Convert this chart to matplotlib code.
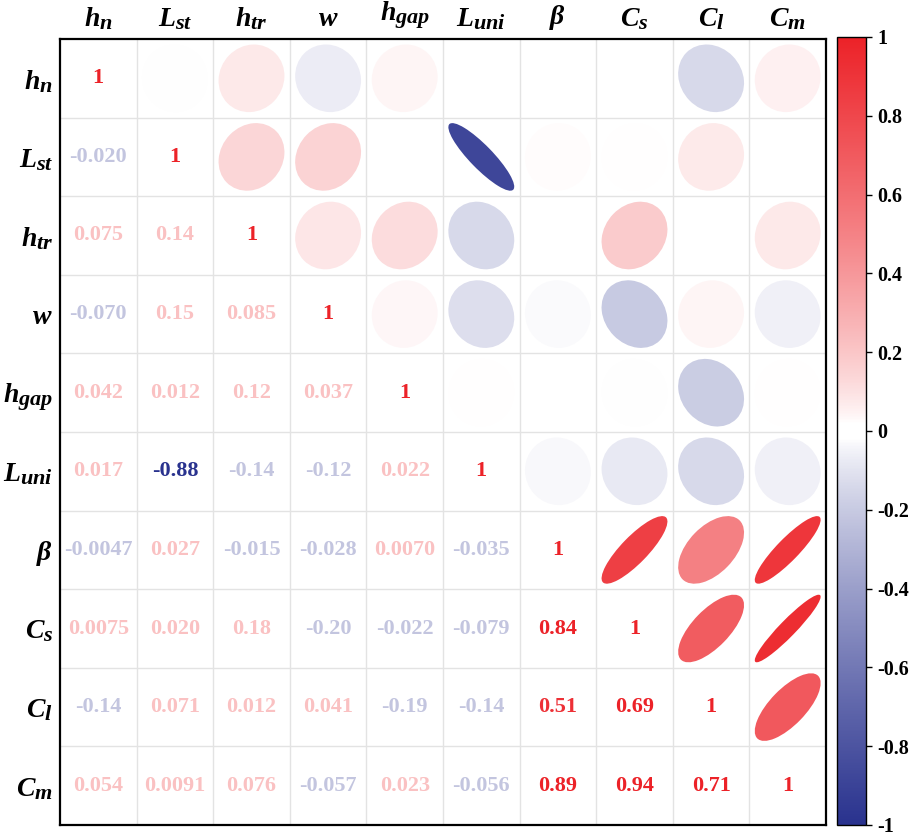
import numpy as np
import matplotlib
matplotlib.use("Agg")
import matplotlib.pyplot as plt
from matplotlib.colors import ListedColormap, Normalize, to_rgb
from matplotlib.patches import Ellipse
from matplotlib.cm import ScalarMappable
import matplotlib._mathtext as _mt

_mt.SHRINK_FACTOR = 0.8

plt.rcParams['font.family'] = ['Liberation Serif', 'DejaVu Serif']
plt.rcParams['mathtext.fontset'] = 'custom'
plt.rcParams['mathtext.it'] = 'Liberation Serif:italic:bold'
plt.rcParams['mathtext.rm'] = 'Liberation Serif:bold'
plt.rcParams['mathtext.bf'] = 'Liberation Serif:bold'

# ---- data ----
variables = [r'$h_{n}$', r'$L_{st}$', r'$h_{tr}$', r'$w$', r'$h_{gap}$',
             r'$L_{uni}$', r'$\beta$', r'$C_{s}$', r'$C_{l}$', r'$C_{m}$']

# lower-triangle correlation labels (row i, columns 0..i-1)
lower_labels = [
    [],
    ['-0.020'],
    ['0.075', '0.14'],
    ['-0.070', '0.15', '0.085'],
    ['0.042', '0.012', '0.12', '0.037'],
    ['0.017', '-0.88', '-0.14', '-0.12', '0.022'],
    ['-0.0047', '0.027', '-0.015', '-0.028', '0.0070', '-0.035'],
    ['0.0075', '0.020', '0.18', '-0.20', '-0.022', '-0.079', '0.84'],
    ['-0.14', '0.071', '0.012', '0.041', '-0.19', '-0.14', '0.51', '0.69'],
    ['0.054', '0.0091', '0.076', '-0.057', '0.023', '-0.056', '0.89', '0.94', '0.71'],
]

cbar_ticks = [-1, -0.8, -0.6, -0.4, -0.2, 0, 0.2, 0.4, 0.6, 0.8, 1]
cbar_ticklabels = ['-1', '-0.8', '-0.6', '-0.4', '-0.2', '0', '0.2', '0.4', '0.6', '0.8', '1']

n = len(variables)
corr = np.eye(n)
for i, row in enumerate(lower_labels):
    for j, s in enumerate(row):
        corr[i, j] = float(s)
        corr[j, i] = float(s)

# blue-white-red colormap with a small white band and slightly boosted saturation
blue_end = np.array(to_rgb('#29328E'))
red_end = np.array(to_rgb('#EC2228'))
white = np.ones(3)
grid_v = np.linspace(-1, 1, 512)
cols = []
for v in grid_v:
    t = np.clip((abs(v) - 0.02) / 0.98, 0, 1) ** 0.8
    end = red_end if v > 0 else blue_end
    cols.append(white + t * (end - white))
cmap = ListedColormap(cols)
norm = Normalize(-1, 1)

def text_color(r):
    a = abs(r)
    if a < 0.3:
        v = 0.22
    else:
        v = min(1.0, a * 1.8)
    return cmap(norm(np.sign(r) * v))

W, H = 917, 838
fig = plt.figure(figsize=(W / 100, H / 100), dpi=100)
ax = fig.add_axes([60 / W, 1 - 825 / H, (826 - 60) / W, (825 - 39) / H])
ax.set_xlim(0, n)
ax.set_ylim(0, n)

s = 0.43
for i in range(n):
    yc = n - 1 - i + 0.5
    for j in range(n):
        xc = j + 0.5
        r = corr[i, j]
        if i == j:
            ax.text(xc, yc, '1', ha='center', va='center', fontsize=16,
                    fontweight='bold', color=cmap(norm(1.0)))
        elif j < i:
            ax.text(xc, yc, lower_labels[i][j], ha='center', va='center',
                    fontsize=16, fontweight='bold', color=text_color(r))
        else:
            e = Ellipse((xc, yc), width=2 * s * np.sqrt(1 + r),
                        height=2 * s * np.sqrt(1 - r), angle=45,
                        facecolor=cmap(norm(r)), edgecolor='none', zorder=2)
            ax.add_patch(e)

ax.set_xticks(np.arange(n) + 0.5)
ax.set_xticklabels(variables, fontsize=20)
ax.set_yticks(np.arange(n) + 0.5)
ax.set_yticklabels(variables[::-1], fontsize=20)
ax.xaxis.tick_top()
ax.tick_params(axis='both', which='major', length=0, pad=5)
ax.set_xticks(np.arange(1, n), minor=True)
ax.set_yticks(np.arange(1, n), minor=True)
ax.tick_params(which='minor', length=0)
ax.grid(which='minor', color='#e3e3e3', linewidth=1.0, zorder=0)
ax.set_axisbelow(True)
for sp in ax.spines.values():
    sp.set_linewidth(1.6)
    sp.set_color('black')

cax = fig.add_axes([837 / W, 1 - 825 / H, 29 / W, (825 - 37) / H])
cb = fig.colorbar(ScalarMappable(norm=norm, cmap=cmap), cax=cax)
cb.set_ticks(cbar_ticks)
cb.set_ticklabels(cbar_ticklabels)
cb.ax.tick_params(labelsize=14.5, length=4, width=1, pad=4)
for lab in cb.ax.get_yticklabels():
    lab.set_fontweight('bold')
cb.outline.set_linewidth(1.0)

fig.savefig('out.png', dpi=100)
